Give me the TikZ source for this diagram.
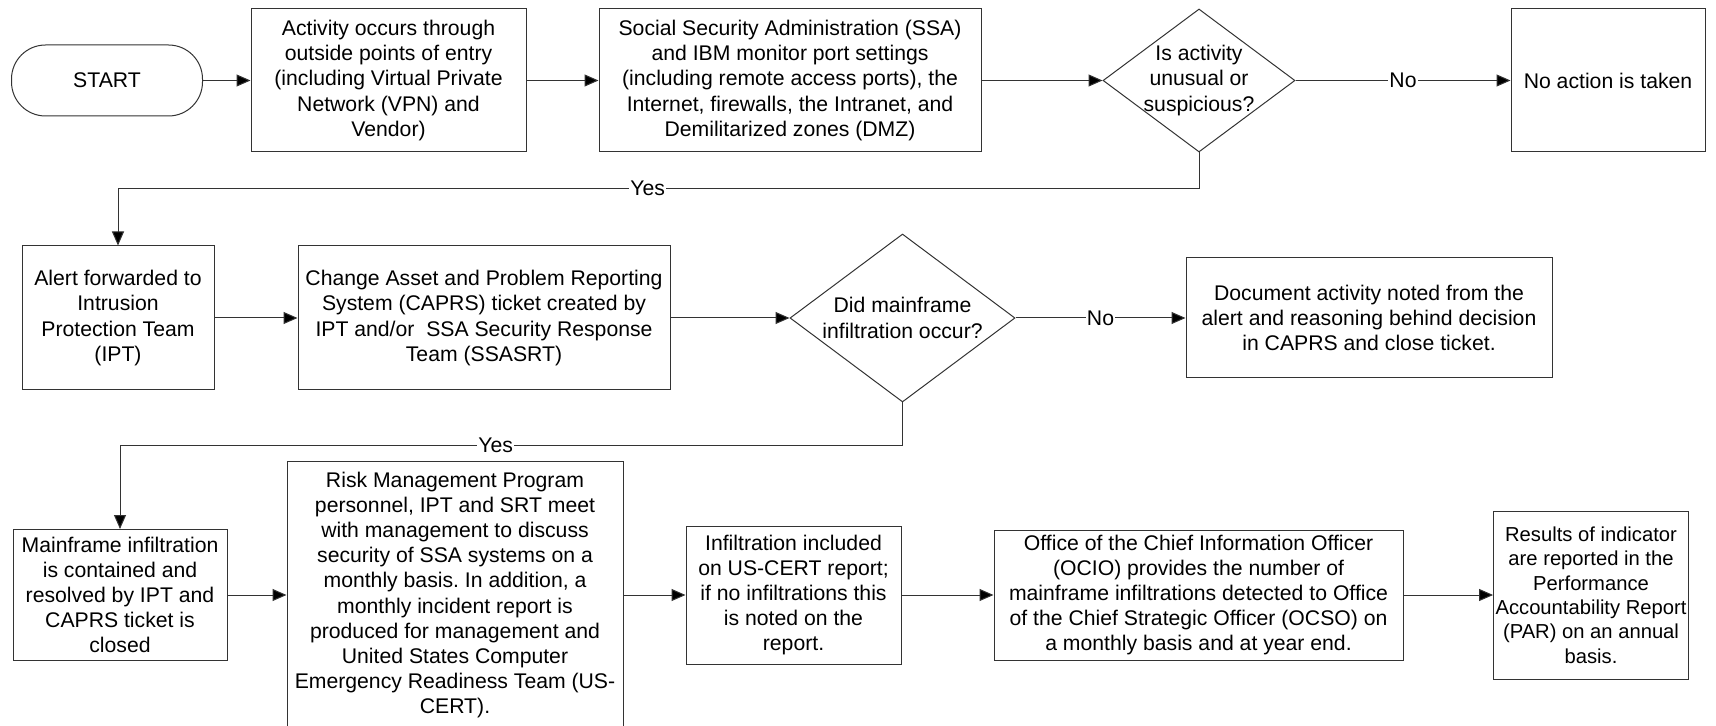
\documentclass[tikz,border=0pt]{standalone}
\usepackage{fontspec}
\setmainfont{Liberation Sans}
\frenchspacing
\usetikzlibrary{arrows.meta,shapes.geometric}

\begin{document}
\begin{tikzpicture}[x=0.5pt,y=-0.5pt]
\tikzstyle{every node}=[font=\fontsize{10.6}{12.6}\selectfont, align=center, inner sep=1pt]
\tikzstyle{box}=[draw=black!80, line width=0.5pt, rectangle, minimum height=71.5pt]
\tikzstyle{term}=[box, rounded corners=17pt]
\tikzstyle{decision}=[draw=black!80, line width=0.5pt, diamond]
\tikzstyle{flow}=[draw=black!80, line width=0.5pt, -{Triangle[length=7pt,width=6pt,fill=black]}]
\tikzstyle{answer}=[fill=white, inner sep=0.5pt]
\useasboundingbox (0,0) rectangle (1716,726);
\clip (0,0) rectangle (1716,726);
% first row
\node (start) [term, minimum width=95.5pt, minimum height=35.5pt] at (107,80.5) {START};
\node (act) [box, minimum width=137.5pt] at (388.5,80.5) {Activity occurs through\\outside points of entry\\(including Virtual Private\\Network (VPN) and\\Vendor)};
\node (mon) [box, minimum width=191pt] at (790,80.5) {Social Security Administration (SSA)\\and IBM monitor port settings\\(including remote access ports), the\\Internet, firewalls, the Intranet, and\\Demilitarized zones (DMZ)};
\node (q1) [decision, minimum width=96pt, minimum height=71.5pt] at (1199,80.5) {};
\node (q1t) at (q1) {Is activity\\unusual or\\suspicious?};
\node (none) [box, minimum width=97pt] at (1608,80.5) {No action is taken};
% second row
\node (alert) [box, minimum width=96pt, minimum height=72pt] at (118,318) {Alert forwarded to\\Intrusion\\Protection Team\\(IPT)};
\node (caprs) [box, minimum width=186pt, minimum height=72pt] at (484,318) {Change Asset and Problem Reporting\\System (CAPRS) ticket created by\\IPT and/or~ SSA Security Response\\Team (SSASRT)};
\node (q2) [decision, minimum width=112.5pt, minimum height=84pt] at (902.5,318) {};
\node (q2t) at (q2) {Did mainframe\\infiltration occur?};
\node (doc) [box, minimum width=183pt, minimum height=60pt] at (1369,318) {Document activity noted from the\\alert and reasoning behind decision\\in CAPRS and close ticket.};
% third row
\node (cont) [box, minimum width=107pt, minimum height=65.5pt] at (120,595) {Mainframe infiltration\\is contained and\\resolved by IPT and\\CAPRS ticket is\\closed};
\node (risk) [box, minimum width=168pt, minimum height=134pt] at (455,595) {Risk Management Program\\personnel, IPT and SRT meet\\with management to discuss\\security of SSA systems on a\\monthly basis. In addition, a\\monthly incident report is\\produced for management and\\United States Computer\\Emergency Readiness Team (US-\\CERT).};
\node (cert) [box, minimum width=107.5pt, minimum height=69pt] at (793.5,595) {Infiltration included\\on US-CERT report;\\if no infiltrations this\\is noted on the\\report.};
\node (ocio) [box, minimum width=204.5pt, minimum height=65pt] at (1198.5,595) {Office of the Chief Information Officer\\(OCIO) provides the number of\\mainframe infiltrations detected to Office\\of the Chief Strategic Officer (OCSO) on\\a monthly basis and at year end.};
\node (par) [box, minimum width=92pt, minimum height=84pt, font=\fontsize{10.1}{12.2}\selectfont] at (1591,595) {Results of indicator\\are reported in the\\Performance\\Accountability Report\\(PAR) on an annual\\basis.};
% connectors
\draw[flow] (start) -- (act);
\draw[flow] (act) -- (mon);
\draw[flow] (mon) -- (q1);
\draw[flow] (q1) -- node[answer] {No} (none);
\draw[flow] (q1.south) -- ++(0,36) -| node[answer, pos=.255] {Yes} (alert.north);
\draw[flow] (alert) -- (caprs);
\draw[flow] (caprs) -- (q2);
\draw[flow] (q2) -- node[answer] {No} (doc);
\draw[flow] (q2.south) -- ++(0,43) -| node[answer, pos=.26] {Yes} (cont.north);
\draw[flow] (cont) -- (risk);
\draw[flow] (risk) -- (cert);
\draw[flow] (cert) -- (ocio);
\draw[flow] (ocio) -- (par);
\end{tikzpicture}
\end{document}
